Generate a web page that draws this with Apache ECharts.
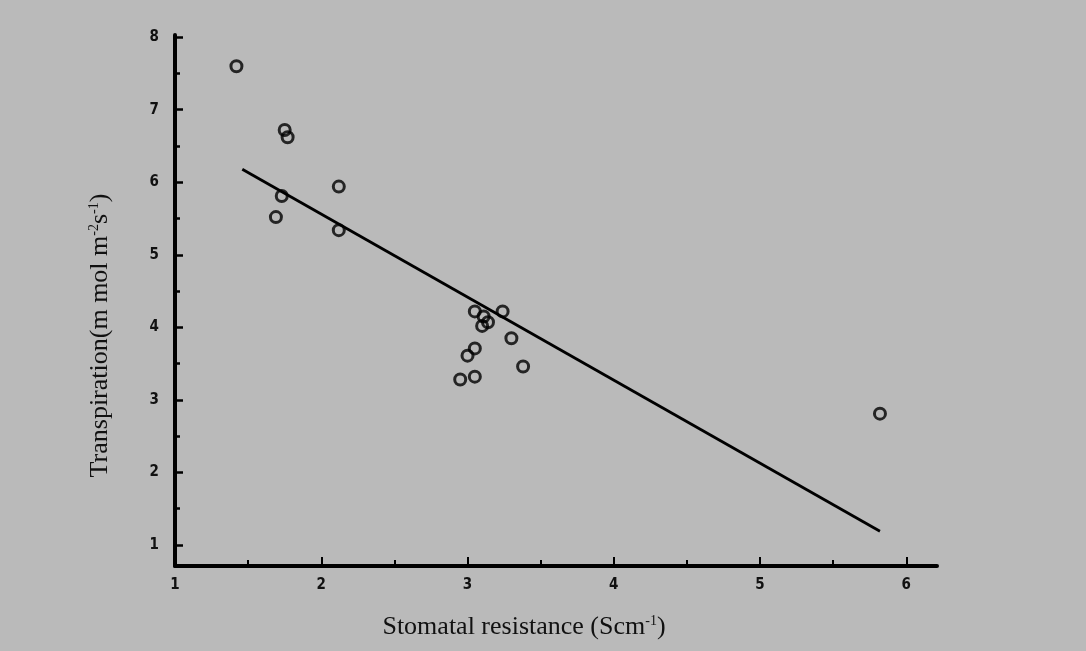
<!DOCTYPE html>
<html>
<head>
<meta charset="utf-8">
<script src="https://cdn.jsdelivr.net/npm/echarts@6/dist/echarts.min.js"></script>
<style>
  html, body { margin: 0; padding: 0; background: #bababa; }
  #main { width: 1086px; height: 651px; }
</style>
</head>
<body>
<div id="main"></div>
<script>
// data: stomatal resistance (x) vs transpiration (y)
let resistance = [1.42, 1.75, 1.77, 1.73, 1.69, 2.12, 2.12, 3.05, 3.11, 3.24, 3.10, 3.14, 3.30, 3.05, 3.00, 3.38, 3.05, 2.95, 5.82]
let transpiration = [7.60, 6.72, 6.62, 5.81, 5.52, 5.94, 5.34, 4.22, 4.15, 4.22, 4.02, 4.07, 3.85, 3.71, 3.61, 3.46, 3.32, 3.28, 2.81]
// fitted line end points
let fitX = [1.46, 5.82]
let fitY = [6.18, 1.19]
// ticks
let xMajor = [1, 2, 3, 4, 5, 6]
let xMinor = [1.5, 2.5, 3.5, 4.5, 5.5]
let yMajor = [1, 2, 3, 4, 5, 6, 7, 8]
let yMinor = [1.5, 2.5, 3.5, 4.5, 5.5, 6.5, 7.5]

let myChart = echarts.init(document.getElementById('main'))

let points = resistance.map((x, i) => [x, transpiration[i]])
let line = fitX.map((x, i) => [x, fitY[i]])

let labelFont = { color: '#111', fontFamily: 'DejaVu Sans Condensed', fontSize: 15, fontWeight: 'bold' }
let titleFont = { color: '#111', fontFamily: 'Liberation Serif', fontSize: 26 }
let supStyle = { sup: { fontFamily: 'Liberation Serif', fontSize: 14, color: '#111', padding: [0, 0, 12, 0] } }

var option = {
  backgroundColor: '#bababa',
  animation: false,
  grid: { left: 175, right: 149, top: 35, bottom: 85 },
  xAxis: [
    {
      type: 'value', min: 1, max: 6.21, position: 'bottom',
      splitLine: { show: false },
      axisLine: { lineStyle: { color: '#000', width: 4 } },
      axisTick: { inside: true, length: 9, lineStyle: { color: '#000', width: 2 }, customValues: xMajor },
      axisLabel: Object.assign({ margin: 12, customValues: xMajor }, labelFont),
      name: 'Stomatal resistance (Scm{sup|-1})',
      nameLocation: 'middle', nameGap: 48,
      nameTextStyle: Object.assign({ padding: [0, 64, 0, 0], rich: supStyle }, titleFont)
    },
    {
      type: 'value', min: 1, max: 6.21, position: 'bottom',
      splitLine: { show: false },
      axisLine: { show: false },
      axisTick: { inside: true, length: 6, lineStyle: { color: '#000', width: 2 }, customValues: xMinor },
      axisLabel: { show: false }
    }
  ],
  yAxis: [
    {
      type: 'value', min: 0.71, max: 8.03, position: 'left',
      splitLine: { show: false },
      axisLine: { lineStyle: { color: '#000', width: 4 } },
      axisTick: { inside: true, length: 8, lineStyle: { color: '#000', width: 2.5 }, customValues: yMajor },
      axisLabel: Object.assign({ margin: 16, customValues: yMajor }, labelFont),
      name: 'Transpiration(m mol m{sup|-2}s{sup|-1})',
      nameLocation: 'middle', nameRotate: 90, nameGap: 62,
      nameTextStyle: Object.assign({ padding: [0, 70, 0, 0], rich: supStyle }, titleFont)
    },
    {
      type: 'value', min: 0.71, max: 8.03, position: 'left',
      splitLine: { show: false },
      axisLine: { show: false },
      axisTick: { inside: true, length: 5, lineStyle: { color: '#000', width: 2.5 }, customValues: yMinor },
      axisLabel: { show: false }
    }
  ],
  series: [
    {
      name: 'fit',
      type: 'line',
      data: line,
      symbol: 'none',
      lineStyle: { color: '#000', width: 2.8 }
    },
    {
      name: 'obs',
      type: 'scatter',
      data: points,
      symbol: 'circle',
      symbolSize: 11,
      itemStyle: { color: 'rgba(0,0,0,0)', borderColor: '#000', borderWidth: 3 }
    }
  ]
}

myChart.setOption(option)
</script>
</body>
</html>
